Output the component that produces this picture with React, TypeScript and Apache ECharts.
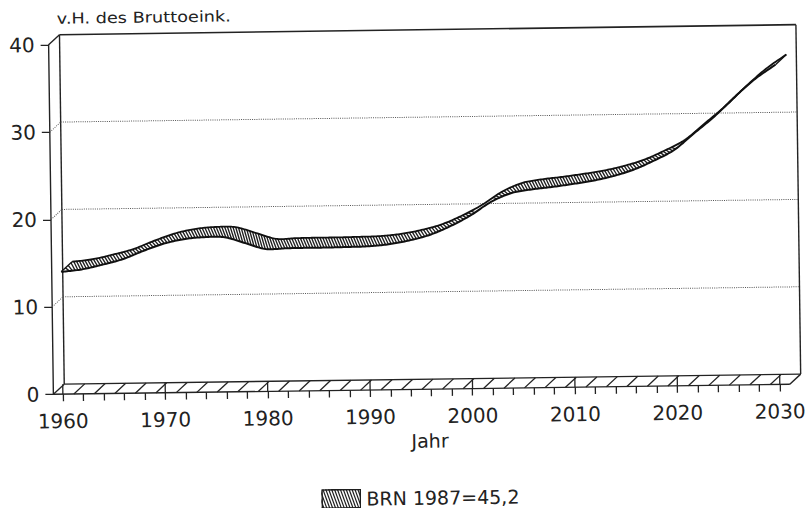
import React, { useEffect, useRef } from 'react';
import * as echarts from 'echarts';

// ---- data ----
const years = [1960, 1962, 1964, 1966, 1968, 1970, 1972, 1974, 1976, 1978, 1980, 1982, 1984, 1986, 1988, 1990, 1992, 1994, 1996, 1998, 2000, 2002, 2004, 2006, 2008, 2010, 2012, 2014, 2016, 2018, 2020, 2022, 2024, 2026, 2028, 2030];
const shares = [14.0, 14.25, 14.75, 15.35, 16.25, 17.05, 17.55, 17.75, 17.7, 17.0, 16.3, 16.35, 16.37, 16.37, 16.4, 16.45, 16.65, 17.05, 17.65, 18.6, 19.8, 21.3, 22.3, 22.7, 22.95, 23.25, 23.6, 24.1, 24.8, 25.8, 27.0, 28.9, 30.8, 33.0, 35.0, 36.6];
const gridValues = [10, 20, 30];
const floorYears = [1960, 1962, 1964, 1966, 1968, 1970, 1972, 1974, 1976, 1978, 1980, 1982, 1984, 1986, 1988, 1990, 1992, 1994, 1996, 1998, 2000, 2002, 2004, 2006, 2008, 2010, 2012, 2014, 2016, 2018, 2020, 2022, 2024, 2026, 2028, 2030];
const xMin = 1960;
const xMax = 2030;
const yMin = 0;
const yMax = 40;
const yTitle = 'v.H. des Bruttoeink.';
const xTitle = 'Jahr';
const seriesName = 'BRN 1987=45,2';

// ---- style constants ----
const DX = 11;
const DY = -10;
const FRONT_PAD_L = 9.5;
const FRONT_PAD_R = 10;
const INK = '#232323';
const FONT = '"DejaVu Sans", "Liberation Sans", sans-serif';

const hatchIcon = (() => {
  let s = "<svg xmlns='http://www.w3.org/2000/svg' width='40' height='20' viewBox='0 0 40 20'>";
  s += "<rect x='0' y='0' width='40' height='20' fill='white'/>";
  for (let k = -10; k < 44; k += 2.9) {
    s += `<line x1='${k.toFixed(2)}' y1='0' x2='${(k + 7).toFixed(2)}' y2='20' stroke='#1e1e1e' stroke-width='1.2'/>`;
  }
  s += "<rect x='0.8' y='0.8' width='38.4' height='18.4' fill='none' stroke='#1e1e1e' stroke-width='1.6'/></svg>";
  return 'image://data:image/svg+xml;charset=utf-8,' + encodeURIComponent(s);
})();

function line(x1: number, y1: number, x2: number, y2: number, style: any) {
  return { type: 'line', shape: { x1, y1, x2, y2 }, style: { stroke: INK, lineWidth: 1.3, ...style } };
}

function crPoint(p0: number[], p1: number[], p2: number[], p3: number[], t: number) {
  const t2 = t * t, t3 = t2 * t;
  const f = (a: number, b: number, c: number, d: number) =>
    0.5 * (2 * b + (-a + c) * t + (2 * a - 5 * b + 4 * c - d) * t2 + (-a + 3 * b - 3 * c + d) * t3);
  return [f(p0[0], p1[0], p2[0], p3[0]), f(p0[1], p1[1], p2[1], p3[1])];
}

function yAt(arr: number[][], x: number) {
  if (x <= arr[0][0]) return arr[0][1];
  if (x >= arr[arr.length - 1][0]) return arr[arr.length - 1][1];
  let lo = 0, hi = arr.length - 1;
  while (hi - lo > 1) {
    const m = (lo + hi) >> 1;
    if (arr[m][0] <= x) lo = m; else hi = m;
  }
  const a = arr[lo], b = arr[hi];
  const t = (x - a[0]) / (b[0] - a[0] || 1);
  return a[1] + (b[1] - a[1]) * t;
}

function renderRibbon(params: any, api: any) {
  if (params.dataIndexInside !== 0) return null;
  const n = params.dataInsideLength;
  const P: number[][] = [];
  for (let j = 0; j < n; j++) P.push(api.coord([api.value(0, j), api.value(1, j)]));
  const dense: number[][] = [];
  const STEPS = 14;
  for (let i = 0; i < n - 1; i++) {
    const p0 = P[Math.max(0, i - 1)], p1 = P[i], p2 = P[i + 1], p3 = P[Math.min(n - 1, i + 2)];
    for (let s = 0; s < STEPS; s++) dense.push(crPoint(p0, p1, p2, p3, s / STEPS));
  }
  dense.push(P[n - 1]);
  const back = dense.map((p) => [p[0] + DX, p[1] + DY]);
  const x0 = dense[0][0], y0 = dense[0][1];
  const xN = dense[dense.length - 1][0], yN = dense[dense.length - 1][1];
  const children: any[] = [];
  children.push({
    type: 'polygon',
    shape: { points: dense.concat(back.slice().reverse()) },
    style: { fill: '#ffffff', stroke: 'none' },
  });
  const SHIFT = 4;
  for (let X = x0 + 1.5; X < xN + DX - 1; X += 2.8) {
    const top = X < x0 + DX ? y0 + (DY * (X - x0)) / DX : yAt(dense, X - DX) + DY;
    const X2 = X + SHIFT;
    let bottom: number;
    if (X2 <= xN) bottom = yAt(dense, X2);
    else if (X2 <= xN + DX) bottom = yN + (DY * (X2 - xN)) / DX;
    else continue;
    if (bottom - top < 1.2) continue;
    children.push(line(X, top, X2, bottom, { stroke: '#1e1e1e', lineWidth: 1.35 }));
  }
  children.push({ type: 'polyline', shape: { points: dense }, style: { stroke: '#111', lineWidth: 2, fill: 'none' } });
  children.push({ type: 'polyline', shape: { points: back }, style: { stroke: '#111', lineWidth: 1.8, fill: 'none' } });
  children.push(line(x0, y0, x0 + DX, y0 + DY, { stroke: '#111', lineWidth: 1.4 }));
  children.push(line(xN, yN, xN + DX, yN + DY, { stroke: '#111', lineWidth: 1.4 }));
  return { type: 'group', children };
}

function renderWalls(params: any, api: any) {
  const [xa, yb] = api.coord([api.value(0), api.value(1)]);
  const [xb, yt] = api.coord([api.value(2), api.value(3)]);
  const fl = xa - FRONT_PAD_L, fr = xb + FRONT_PAD_R;
  const bl = fl + DX, br = fr + DX;
  const st = { stroke: INK, lineWidth: 1.4 };
  return {
    type: 'group',
    children: [
      line(fl, yt, bl, yt + DY, st),
      line(bl, yt + DY, br, yt + DY, { stroke: INK, lineWidth: 1.6 }),
      line(br, yt + DY, br, yb + DY, st),
      line(bl, yt + DY, bl, yb + DY, st),
      line(fl, yb, fr, yb, st),
      line(bl, yb + DY, br, yb + DY, st),
      line(fr, yb, br, yb + DY, st),
    ],
  };
}

function renderGridLines(params: any, api: any) {
  const [xa, y] = api.coord([api.value(0), api.value(1)]);
  const xb = api.coord([api.value(2), api.value(1)])[0];
  const fl = xa - FRONT_PAD_L;
  const bl = fl + DX, br = xb + FRONT_PAD_R + DX;
  const st = { stroke: '#555', lineWidth: 1, lineDash: [1, 1.2] };
  return {
    type: 'group',
    children: [line(fl, y, bl, y + DY, st), line(bl, y + DY, br, y + DY, st)],
  };
}

function renderFloor(params: any, api: any) {
  const yr = api.value(0);
  const [x, y] = api.coord([yr, api.value(1)]);
  const children: any[] = [line(x - FRONT_PAD_L, y, x - FRONT_PAD_L + DX, y + DY, { lineWidth: 1.3 })];
  if (yr % 10 === 0) children.push(line(x, y + DY, x, y, { lineWidth: 1.3 }));
  return { type: 'group', children };
}

export default function App() {
  const ref = useRef<HTMLDivElement>(null);
  useEffect(() => {
    if (!ref.current) return;
    const chart = echarts.init(ref.current, null, { renderer: 'svg' });
    const option: any = {
      animation: false,
      backgroundColor: '#ffffff',
      grid: { left: 61, right: 33, top: 40, bottom: 118.5, containLabel: false },
      xAxis: {
        type: 'value',
        min: xMin,
        max: xMax,
        interval: 10,
        axisLine: { show: false },
        axisTick: { show: true, length: 7, lineStyle: { color: INK, width: 1.3 } },
        minorTick: { show: true, splitNumber: 5, length: 7, lineStyle: { color: INK, width: 1.3 } },
        splitLine: { show: false },
        minorSplitLine: { show: false },
        axisLabel: { margin: 17, fontSize: 20, fontFamily: FONT, color: '#222', formatter: (v: number) => String(v) },
        name: xTitle,
        nameLocation: 'middle',
        nameGap: 42,
        nameTextStyle: { fontSize: 19, fontFamily: FONT, color: '#222', padding: [0, 0, 0, 16] },
      },
      yAxis: {
        type: 'value',
        min: yMin,
        max: yMax,
        interval: 10,
        offset: FRONT_PAD_L,
        axisLine: { show: true, lineStyle: { color: INK, width: 1.4 } },
        axisTick: { show: true, length: 8, lineStyle: { color: INK, width: 1.3 } },
        splitLine: { show: false },
        axisLabel: { margin: 14, fontSize: 20, fontFamily: FONT, color: '#222' },
      },
      legend: {
        left: 313,
        top: 483,
        itemWidth: 40,
        itemHeight: 20,
        selectedMode: false,
        data: [{ name: seriesName, icon: hatchIcon }],
        textStyle: { fontSize: 19, lineHeight: 20, fontFamily: FONT, color: '#222' },
      },
      graphic: [
        {
          type: 'text',
          x: 60,
          y: 14,
          scaleX: 1.18,
          style: { text: yTitle, fontSize: 15, fontFamily: FONT, fill: '#222', align: 'left', verticalAlign: 'middle' },
        },
      ],
      series: [
        {
          type: 'custom',
          name: 'walls',
          clip: false,
          silent: true,
          renderItem: renderWalls,
          encode: { x: [0, 2], y: [1, 3] },
          data: [[xMin, yMin, xMax, yMax]],
          z: 1,
        },
        {
          type: 'custom',
          name: 'grid',
          clip: false,
          silent: true,
          renderItem: renderGridLines,
          encode: { x: [0, 2], y: 1 },
          data: gridValues.map((v) => [xMin, v, xMax]),
          z: 1,
        },
        {
          type: 'custom',
          name: 'floor',
          clip: false,
          silent: true,
          renderItem: renderFloor,
          encode: { x: 0, y: 1 },
          data: floorYears.map((y) => [y, yMin]),
          z: 1,
        },
        {
          type: 'custom',
          name: seriesName,
          clip: false,
          silent: true,
          renderItem: renderRibbon,
          encode: { x: 0, y: 1 },
          data: years.map((y, i) => [y, shares[i]]),
          z: 3,
        },
      ],
    };
    chart.setOption(option);
    return () => chart.dispose();
  }, []);
  return (
    <div
      ref={ref}
      style={{
        position: 'absolute',
        left: 0,
        top: 0,
        width: 811,
        height: 508,
        transform: 'rotate(-0.78deg)',
        transformOrigin: '50% 50%',
        background: '#fff',
      }}
    />
  );
}
